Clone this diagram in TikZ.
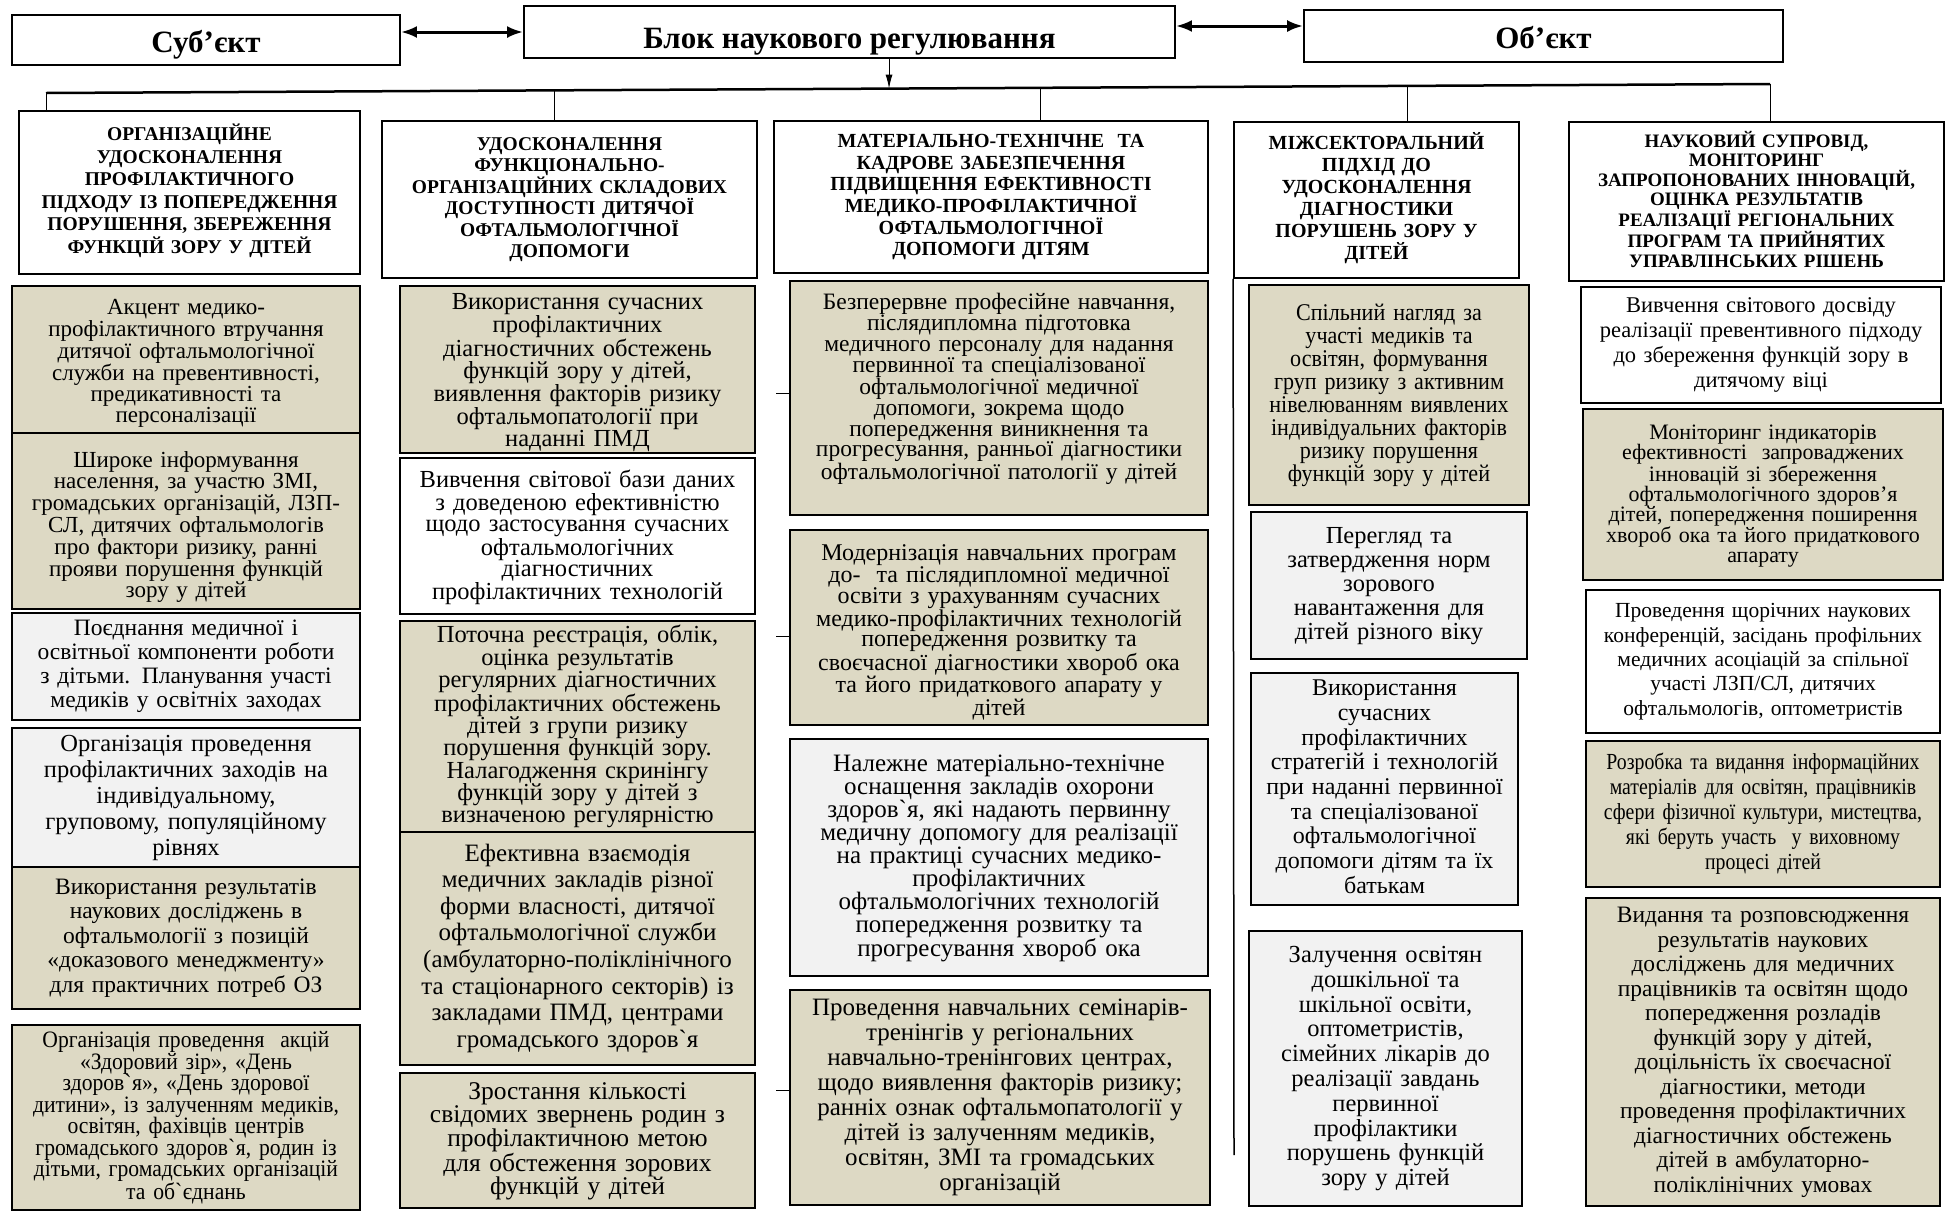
\documentclass[tikz,border=0pt]{standalone}
\usepackage{fontspec}
\setmainfont{Liberation Serif}
\newfontfamily\condfont{Liberation Serif}[FakeStretch=0.92]
\newfontfamily\narrowfont{Liberation Serif}[FakeStretch=0.86]
\usetikzlibrary{calc}
\usetikzlibrary{arrows.meta}
\usetikzlibrary{positioning}
\definecolor{tanfill}{HTML}{DDD9C4}
\definecolor{greyfill}{HTML}{F2F2F2}
\tikzset{
  box/.style={rectangle, draw, line width=1.8pt, align=center, anchor=north, inner xsep=4pt, inner ysep=0pt},
  tanbox/.style={box, fill=tanfill},
  greybox/.style={box, fill=greyfill},
  whitebox/.style={box, fill=white},
  topbox/.style={rectangle, draw, line width=1.8pt, fill=white, inner sep=0pt, font=\fontsize{31pt}{31pt}\selectfont\bfseries},
  cell/.code n args={4}{%
    \pgfmathsetmacro\cellT{max(0.8*#1,(#3-(#4-1)*#2-0.93*#1)/2+0.7*#1)}%
    \pgfmathsetmacro\cellD{#3-\cellT}%
    \tikzset{font=\fontsize{#1pt}{#2pt}\selectfont, text height=\cellT pt, text depth=\cellD pt}},
}
\begin{document}
\begin{tikzpicture}[x=1pt, y=-1pt]
      \useasboundingbox (0,0) rectangle (1948,1211);
      \node[topbox, minimum width=388pt, text height=37pt, text depth=13pt] (sub) at (206,40) {Суб’єкт} ;
      \node[topbox, minimum width=651pt, text height=42pt, text depth=10pt] (blok) at (849.5,32) {Блок наукового регулювання} ;
      \node[topbox, minimum width=479pt, text height=38pt, text depth=14pt] (obj) at (1543.5,36) {Об’єкт} ;
      \draw [{Latex[length=16pt,width=12pt]}-{Latex[length=16pt,width=12pt]}, line width=3pt] ([yshift=8pt]sub.east) -- ([yshift=8pt]sub.east -| blok.west) ;
      \draw [{Latex[length=16pt,width=12pt]}-{Latex[length=16pt,width=12pt]}, line width=3pt] ([yshift=6pt]blok.east) -- ([yshift=6pt]blok.east -| obj.west) ;

      \coordinate (barL) at (46,93) ;
      \coordinate (barR) at (1770,84) ;
      \coordinate (tB) at ($(barL)!0.489!(barR)$) ;
      \coordinate (t2) at ($(barL)!0.2952!(barR)$) ;
      \coordinate (t3) at ($(barL)!0.5771!(barR)$) ;
      \coordinate (t4) at ($(barL)!0.79!(barR)$) ;
      \draw [line width=2.5pt] (barL) -- (barR) ;
      \draw [-{Latex[length=14pt,width=7pt]}, line width=1pt] (blok.south -| tB) -- (tB) ;

      \node[whitebox, cell={19.5}{22.5}{163}{6}, text width=333pt] (h1) at (189.5,110) {\bfseries ОРГАНІЗАЦІЙНЕ\\УДОСКОНАЛЕННЯ\\ПРОФІЛАКТИЧНОГО\\ПІДХОДУ ІЗ ПОПЕРЕДЖЕННЯ\\ПОРУШЕННЯ, ЗБЕРЕЖЕННЯ\\ФУНКЦІЙ ЗОРУ У ДІТЕЙ} ;
      \node[whitebox, cell={19.5}{21.4}{157}{6}, text width=367pt] (h2) at (569.5,120) {\bfseries УДОСКОНАЛЕННЯ\\ФУНКЦІОНАЛЬНО-\\ОРГАНІЗАЦІЙНИХ СКЛАДОВИХ\\ДОСТУПНОСТІ ДИТЯЧОЇ\\ОФТАЛЬМОЛОГІЧНОЇ\\ДОПОМОГИ} ;
      \node[whitebox, cell={20}{21.6}{152}{6}, text width=426pt] (h3) at (991,120) {\bfseries МАТЕРІАЛЬНО-ТЕХНІЧНЕ~ ТА\\КАДРОВЕ ЗАБЕЗПЕЧЕННЯ\\ПІДВИЩЕННЯ ЕФЕКТИВНОСТІ\\МЕДИКО-ПРОФІЛАКТИЧНОЇ\\ОФТАЛЬМОЛОГІЧНОЇ\\ДОПОМОГИ ДІТЯМ} ;
      \node[whitebox, cell={20}{21.9}{156}{6}, text width=277pt] (h4) at (1376.5,121) {\bfseries МІЖСЕКТОРАЛЬНИЙ\\ПІДХІД ДО\\УДОСКОНАЛЕННЯ\\ДІАГНОСТИКИ\\ПОРУШЕНЬ ЗОРУ У\\ДІТЕЙ} ;
      \node[whitebox, cell={19}{19.5}{159}{7}, text width=367pt] (h5) at (1756.5,121) {\bfseries НАУКОВИЙ СУПРОВІД,\\МОНІТОРИНГ\\ЗАПРОПОНОВАНИХ ІННОВАЦІЙ,\\ОЦІНКА РЕЗУЛЬТАТІВ\\РЕАЛІЗАЦІЇ РЕГІОНАЛЬНИХ\\ПРОГРАМ ТА ПРИЙНЯТИХ\\УПРАВЛІНСЬКИХ РІШЕНЬ} ;
      \draw [line width=1pt] (barL) -- (barL |- h1.north) ;
      \draw [line width=1pt] (t2) -- (t2 |- h2.north) ;
      \draw [line width=1pt] (t3) -- (t3 |- h3.north) ;
      \draw [line width=1pt] (t4) -- (t4 |- h4.north) ;
      \draw [line width=1pt] (barR) -- (barR |- h5.north) ;

      \node[tanbox, cell={23}{20}{147}{6}, text width=340pt] (b1a) at (186,285) {Акцент медико-\\профілактичного втручання\\дитячої офтальмологічної\\служби на превентивності,\\предикативності та\\персоналізації} ;
      \node[tanbox, cell={23}{19.6}{176}{7}, text width=340pt] (b1b) at (186,432) {Широке інформування\\населення, за участю ЗМІ,\\громадських організацій, ЛЗП-\\СЛ, дитячих офтальмологів\\про фактори ризику, ранні\\прояви порушення функцій\\зору у дітей} ;
      \node[greybox, cell={23.5}{24}{107}{4}, text width=340pt] (b1c) at (186,612) {Поєднання медичної і\\освітньої компоненти роботи\\з дітьми. Планування участі\\медиків у освітніх заходах} ;
      \node[greybox, cell={24.5}{26}{139}{5}, text width=340pt] (b1d) at (186,727) {Організація проведення\\профілактичних заходів на\\індивідуальному,\\груповому, популяційному\\рівнях} ;
      \node[tanbox, cell={23.5}{24.5}{142}{5}, text width=340pt] (b1e) at (186,866) {Використання результатів\\наукових досліджень в\\офтальмології з позицій\\«доказового менеджменту»\\для практичних потреб ОЗ} ;
      \node[tanbox, cell={23.5}{21.5}{185}{8}, text width=340pt] (b1f) at (186,1024) {\condfont Організація проведення~ акцій\\«Здоровий зір», «День\\здоров\textasciigrave я», «День здорової\\дитини», із залученням медиків,\\освітян, фахівців центрів\\громадського здоров\textasciigrave я, родин із\\дітьми, громадських організацій\\та об\textasciigrave єднань} ;

      \node[tanbox, cell={24.5}{21.9}{167}{7}, text width=347pt] (b2a) at (577.5,285) {Використання сучасних\\профілактичних\\діагностичних обстежень\\функцій зору у дітей,\\виявлення факторів ризику\\офтальмопатології при\\наданні ПМД} ;
      \node[whitebox, cell={24.5}{21.7}{156}{6}, text width=347pt] (b2b) at (577.5,457) {Вивчення світової бази даних\\з доведеною ефективністю\\щодо застосування сучасних\\офтальмологічних\\діагностичних\\профілактичних технологій} ;
      \node[tanbox, cell={24.5}{22.3}{211}{9}, text width=347pt] (b2c) at (577.5,620) {Поточна реєстрація, облік,\\оцінка результатів\\регулярних діагностичних\\профілактичних обстежень\\дітей з групи ризику\\порушення функцій зору.\\Налагодження скринінгу\\функцій зору у дітей з\\визначеною регулярністю} ;
      \node[tanbox, cell={25}{26.6}{233}{8}, text width=347pt] (b2d) at (577.5,831) {Ефективна взаємодія\\медичних закладів різної\\форми власності, дитячої\\офтальмологічної служби\\(амбулаторно-поліклінічного\\та стаціонарного секторів) із\\закладами ПМД, центрами\\громадського здоров\textasciigrave я} ;
      \node[tanbox, cell={25.5}{23.5}{135}{5}, text width=347pt] (b2e) at (577.5,1072) {Зростання кількості\\свідомих звернень родин з\\профілактичною метою\\для обстеження зорових\\функцій у дітей} ;

      \node[tanbox, cell={23.5}{20.8}{234}{10}, text width=410pt] (b3a) at (999,280) {Безперервне професійне навчання,\\післядипломна підготовка\\медичного персоналу для надання\\первинної та спеціалізованої\\офтальмологічної медичної\\допомоги, зокрема щодо\\попередження виникнення та\\прогресування, ранньої діагностики\\офтальмологічної патології у дітей} ;
      \node[tanbox, cell={24}{20.7}{195}{8}, text width=410pt] (b3b) at (999,529) {Модернізація навчальних програм\\до-~ та післядипломної медичної\\освіти з урахуванням сучасних\\медико-профілактичних технологій\\попередження розвитку та\\своєчасної діагностики хвороб ока\\та його придаткового апарату у\\дітей} ;
      \node[greybox, cell={25}{23}{237}{9}, text width=410pt] (b3c) at (999,738) {Належне матеріально-технічне\\оснащення закладів охорони\\здоров\textasciigrave я, які надають первинну\\медичну допомогу для реалізації\\на практиці сучасних медико-\\профілактичних\\офтальмологічних технологій\\попередження розвитку та\\прогресування хвороб ока} ;
      \node[tanbox, cell={25}{25}{215}{8}, text width=412pt] (b3d) at (1000,989) {Проведення навчальних семінарів-\\тренінгів у регіональних\\навчально-тренінгових центрах,\\щодо виявлення факторів ризику;\\ранніх ознак офтальмопатології у\\дітей із залученням медиків,\\освітян, ЗМІ та громадських\\організацій} ;
      \draw [line width=1pt] ([yshift=4pt]b3a.west) -- ++(-13,0) ;
      \draw [line width=1pt] ([yshift=-9.5pt]b3b.west) -- ++(-13,0) ;
      \draw [line width=1pt] ([yshift=6.5pt]b3d.west) -- ++(-13,0) ;

      \node[tanbox, cell={24}{23}{220}{8}, text width=272pt] (b4a) at (1389,284) {\condfont Спільний нагляд за\\участі медиків та\\освітян, формування\\груп ризику з активним\\нівелюванням виявлених\\індивідуальних факторів\\ризику порушення\\функцій зору у дітей} ;
      \node[greybox, cell={24.5}{24}{147}{5}, text width=268pt] (b4b) at (1389,511) {Перегляд та\\затвердження норм\\зорового\\навантаження для\\дітей різного віку} ;
      \node[greybox, cell={24}{24.7}{232}{9}, text width=259pt] (b4c) at (1384.5,672) {Використання\\сучасних\\профілактичних\\стратегій і технологій\\при наданні первинної\\та спеціалізованої\\офтальмологічної\\допомоги дітям та їх\\батькам} ;
      \node[greybox, cell={24.5}{24.8}{275}{10}, text width=265pt] (b4d) at (1385.5,930) {Залучення освітян\\дошкільної та\\шкільної освіти,\\оптометристів,\\сімейних лікарів до\\реалізації завдань\\первинної\\профілактики\\порушень функцій\\зору у дітей} ;
      \coordinate (v4) at (1234,1155) ;
      \draw [line width=1.5pt] (h4.south west) -- (v4) ;

      \node[whitebox, cell={22.5}{25}{116}{4}, text width=352pt] (b5a) at (1761,286) {Вивчення світового досвіду\\реалізації превентивного підходу\\до збереження функцій зору в\\дитячому віці} ;
      \node[tanbox, cell={22}{20}{171}{7}, text width=352pt] (b5b) at (1763,408) {Моніторинг індикаторів\\ефективності~ запроваджених\\інновацій зі збереження\\офтальмологічного здоров’я\\дітей, попередження поширення\\хвороб ока та його придаткового\\апарату} ;
      \node[whitebox, cell={21.5}{24.3}{143}{5}, text width=346pt] (b5c) at (1763,589) {Проведення щорічних наукових\\конференцій, засідань профільних\\медичних асоціацій за спільної\\участі ЛЗП/СЛ, дитячих\\офтальмологів, оптометристів} ;
      \node[tanbox, cell={23}{25}{146}{5}, text width=346pt] (b5d) at (1763,740) {\narrowfont Розробка та видання інформаційних\\матеріалів для освітян, працівників\\сфери фізичної культури, мистецтва,\\які беруть участь~ у виховному\\процесі дітей} ;
      \node[tanbox, cell={23.5}{24.5}{308}{12}, text width=346pt] (b5e) at (1763,897) {Видання та розповсюдження\\результатів наукових\\досліджень для медичних\\працівників та освітян щодо\\попередження розладів\\функцій зору у дітей,\\доцільність їх своєчасної\\діагностики, методи\\проведення профілактичних\\діагностичних обстежень\\дітей в амбулаторно-\\поліклінічних умовах} ;
    \end{tikzpicture}
\end{document}
